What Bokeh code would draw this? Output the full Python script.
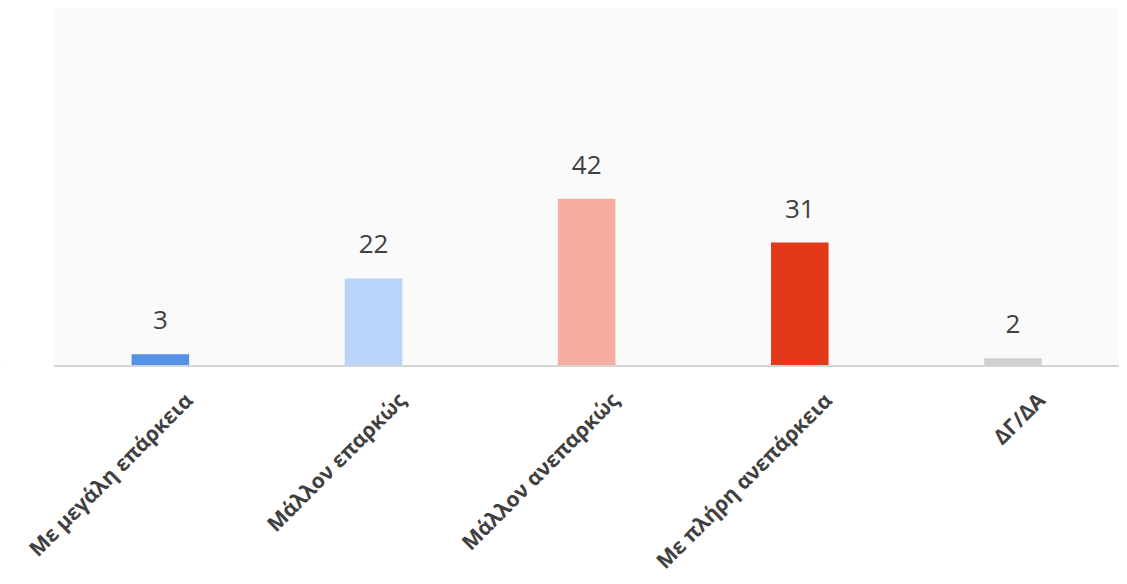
import math
from bokeh.plotting import figure
from bokeh.models import ColumnDataSource, Range1d, BoxAnnotation, Span
from bokeh.core.properties import value
from bokeh.embed import file_html
from bokeh.resources import INLINE

categories = ["Με μεγάλη επάρκεια", "Μάλλον επαρκώς", "Μάλλον ανεπαρκώς", "Με πλήρη ανεπάρκεια", "ΔΓ/ΔΑ"]
values = [3, 22, 42, 31, 2]
colors = ["#5591E4", "#B8D4F9", "#F5AEA0", "#E2391A", "#D0D0D0"]
labels = [str(v) for v in values]

# category slot centres (one unit per category)
xpos = [i + 0.5 for i in range(len(categories))]
src = ColumnDataSource(dict(x=xpos, cat=categories, val=values, color=colors, label=labels,
                            zero=[0] * len(categories)))

# frame covers the whole figure so the rotated labels are not clipped;
# the left part of the x range and the lower part of the y range hold the labels
p = figure(width=1119, height=576, x_range=Range1d(-0.25, len(categories)), y_range=Range1d(-52.8, 90),
           output_backend="svg", toolbar_location=None,
           min_border_left=0, min_border_right=0, min_border_top=7, min_border_bottom=0)

p.background_fill_color = "white"
p.border_fill_color = "white"
p.outline_line_color = None
p.xgrid.visible = False
p.ygrid.visible = False
p.yaxis.visible = False
p.xaxis.visible = False

# plot-area shading above the baseline
p.add_layout(BoxAnnotation(left=0, bottom=0, fill_color="#fafafa", fill_alpha=1.0,
                           line_color=None, level="underlay"))

p.vbar(x="x", top="val", width=0.27, bottom=0, color="color", line_color=None, source=src)

# baseline (category axis line), starting at the plot-area's left edge
p.add_layout(Span(location=0, dimension="width", line_color="#d4d4d4", line_width=2))
p.add_layout(BoxAnnotation(right=0, top=0.4, bottom=-0.4, fill_color="white", fill_alpha=1.0, line_color=None))

p.text(x="x", y="val", text="label", source=src, text_align="center", text_baseline="alphabetic",
       y_offset=-34, text_font=value("Open Sans"), text_font_size="26px", text_color="#404040")

# rotated category labels
p.text(x="x", y="zero", text="cat", source=src, angle=math.pi / 4,
       text_align="right", text_baseline="middle", x_offset=28, y_offset=30,
       text_font=value("Open Sans"), text_font_style="bold", text_font_size="21px",
       text_color="#404040")

open("out.html", "w").write(file_html(p, INLINE))
